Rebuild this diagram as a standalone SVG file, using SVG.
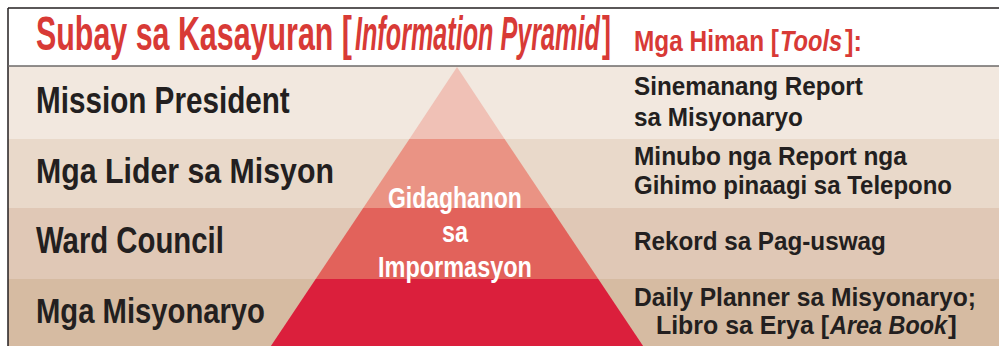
<svg xmlns="http://www.w3.org/2000/svg" width="999" height="346" viewBox="0 0 999 346">
<style>
.lbl{font-family:"Liberation Sans","Arial",sans-serif;font-weight:bold;fill:#231f20}
.big{font-size:36px}
.sm{font-size:26.5px}
.red{fill:#d83a36}
.it{font-style:italic}
.wh{fill:#ffffff;font-size:29px}
</style>
<rect x="0" y="0" width="999" height="346" fill="#ffffff"/>
<g id="rows">
<rect x="8" y="66" width="991" height="73" fill="#f2e8df"/>
<rect x="8" y="139" width="991" height="69" fill="#e9d9ca"/>
<rect x="8" y="208" width="991" height="71" fill="#e0c8b6"/>
<rect x="8" y="279" width="991" height="67" fill="#d6bba2"/>
</g>
<g id="frame" fill="none">
<line x1="8" y1="8" x2="999" y2="8" stroke="#231f20" stroke-width="1.5"/>
<line x1="8" y1="8" x2="8" y2="346" stroke="#231f20" stroke-width="1.5"/>
<line x1="8" y1="66" x2="999" y2="66" stroke="#6d6a68" stroke-width="1.5"/>
</g>
<g id="pyramid">
<polygon points="457,67 504.6,139 409.4,139" fill="#f0c1b6"/>
<polygon points="409.4,139 504.6,139 550.8,208 363.2,208" fill="#ea9384"/>
<polygon points="363.2,208 550.8,208 598.3,279 315.7,279" fill="#e2625b"/>
<polygon points="315.7,279 598.3,279 643.1,346 270.9,346" fill="#db1f3c"/>
<text class="lbl wh" transform="translate(388,208) scale(0.792,1)">Gidaghanon</text>
<text class="lbl wh" transform="translate(442,242) scale(0.807,1)">sa</text>
<text class="lbl wh" transform="translate(378,277) scale(0.81,1)">Impormasyon</text>
</g>
<g id="title">
<text class="lbl red" font-size="49" transform="translate(36,50) scale(0.6205,1)">Subay sa Kasayuran [</text>
<text class="lbl red it" font-size="49" transform="translate(355,50) scale(0.514,1)">Information Pyramid</text>
<text class="lbl red" font-size="49" transform="translate(602,50) scale(0.55,1)">]</text>
<text class="lbl red" font-size="29" transform="translate(634,51) scale(0.841,1)">Mga Himan [</text>
<text class="lbl red it" font-size="29" transform="translate(780,51) scale(0.815,1)">Tools</text>
<text class="lbl red" font-size="29" transform="translate(845,51) scale(0.88,1)">]:</text>
</g>
<g id="level-1">
<text class="lbl big" transform="translate(36,113) scale(0.824,1)">Mission President</text>
<text class="lbl sm" transform="translate(634,95) scale(0.915,1)">Sinemanang Report</text>
<text class="lbl sm" transform="translate(634,126) scale(0.918,1)">sa Misyonaryo</text>
</g>
<g id="level-2">
<text class="lbl big" transform="translate(36,183) scale(0.8416,1)">Mga Lider sa Misyon</text>
<text class="lbl sm" transform="translate(634,165) scale(0.9225,1)">Minubo nga Report nga</text>
<text class="lbl sm" transform="translate(634,194) scale(0.9054,1)">Gihimo pinaagi sa Telepono</text>
</g>
<g id="level-3">
<text class="lbl big" transform="translate(36,253) scale(0.8146,1)">Ward Council</text>
<text class="lbl sm" transform="translate(634,250) scale(0.915,1)">Rekord sa Pag-uswag</text>
</g>
<g id="level-4">
<text class="lbl big" transform="translate(36,323) scale(0.812,1)">Mga Misyonaryo</text>
<text class="lbl sm" transform="translate(634,306) scale(0.929,1)">Daily Planner sa Misyonaryo;</text>
<text class="lbl sm" transform="translate(656,334) scale(0.94,1)">Libro sa Erya [</text>
<text class="lbl sm it" transform="translate(830,334) scale(0.883,1)">Area Book</text>
<text class="lbl sm" transform="translate(948,334)">]</text>
</g>
<g id="connectors"/>
</svg>
